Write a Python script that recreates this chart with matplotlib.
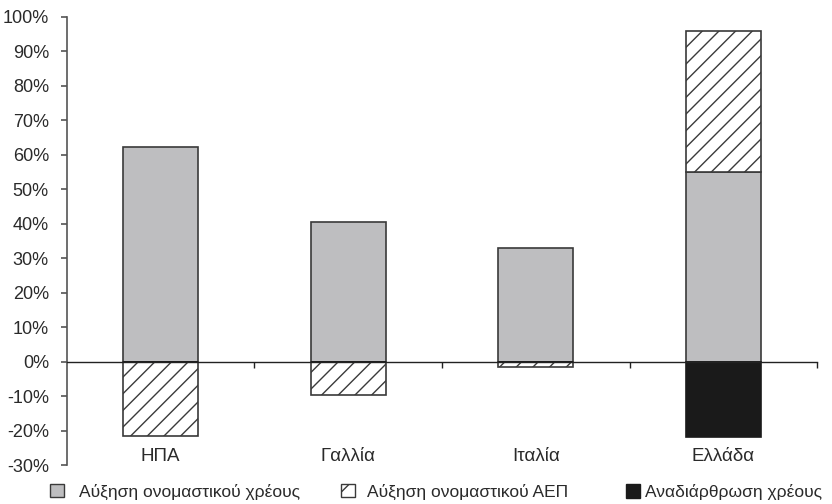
import matplotlib
matplotlib.use("Agg")
import matplotlib.pyplot as plt
from matplotlib.patches import Patch
from matplotlib.ticker import FuncFormatter
import numpy as np

plt.rcParams['font.family'] = ['Liberation Sans Narrow', 'Liberation Sans', 'DejaVu Sans']
plt.rcParams['hatch.linewidth'] = 1.0
plt.rcParams['hatch.color'] = '#333333'

countries = ["ΗΠΑ", "Γαλλία", "Ιταλία", "Ελλάδα"]
debt_growth = [62.3, 40.6, 33.0, 55.1]        # Αύξηση ονομαστικού χρέους
gdp_growth = [-21.4, -9.6, -1.5, 40.8]        # Αύξηση ονομαστικού ΑΕΠ
restructuring = [0.0, 0.0, 0.0, -21.7]        # Αναδιάρθρωση χρέους
legend_labels = ["Αύξηση ονομαστικού χρέους", "Αύξηση ονομαστικού ΑΕΠ",
                 "Αναδιάρθρωση χρέους"]
y_ticks = list(range(-30, 101, 10))

FS = 13
TXT = '#2a2a2a'

fig = plt.figure(figsize=(8.32, 5.04), dpi=100)
ax = fig.add_axes([0.0805, 0.0764, 0.9015, 0.8899])

x = np.arange(len(countries))
w = 0.4
edge = '#3a3a3a'
gray = '#bebec0'
black = '#1a1a1a'

ax.bar(x, debt_growth, w, color=gray, edgecolor=edge, linewidth=1.2, zorder=2)
# GDP growth stacks on top of debt growth when positive, below zero otherwise
gdp_bottom = [d if g > 0 else 0 for d, g in zip(debt_growth, gdp_growth)]
ax.bar(x, gdp_growth, w, bottom=gdp_bottom, color='white', edgecolor=edge,
       hatch='//', linewidth=1.2, zorder=2)
ax.bar(x, restructuring, w, color=black, edgecolor=black,
       linewidth=1.2, zorder=2)

ax.set_xlim(-0.5, len(countries) - 0.5)
ax.set_ylim(-30, 100)
ax.set_yticks(y_ticks)
ax.yaxis.set_major_formatter(FuncFormatter(lambda v, p: f"{v:.0f}%"))

for s in ['top', 'right']:
    ax.spines[s].set_visible(False)
ax.spines['left'].set_color('#555555')
ax.spines['left'].set_linewidth(1.2)
ax.spines['bottom'].set_position(('data', 0))
ax.spines['bottom'].set_color('#222222')
ax.spines['bottom'].set_linewidth(1.0)
ax.spines['bottom'].set_zorder(3)

ax.tick_params(axis='y', direction='out', length=4, width=1.2, color='#555555',
               labelsize=FS, labelcolor=TXT, pad=9)
ax.set_xticks(np.arange(len(countries)) + 0.5)
ax.tick_params(axis='x', direction='out', length=4, width=1.0, color='#222222',
               labelbottom=False)

for xi, name in zip(x, countries):
    ax.text(xi, 0.021, name, transform=ax.get_xaxis_transform(),
            ha='center', va='center', fontsize=FS + 0.5, color=TXT)

handles = [
    Patch(facecolor=gray, edgecolor=edge, linewidth=1.0),
    Patch(facecolor='white', edgecolor=edge, hatch='/', linewidth=1.0),
    Patch(facecolor=black, edgecolor=black, linewidth=1.0),
]
legend_x = [50, 341, 626]
legend_pad = [0.85, 0.7, 0.3]
for h, lab, lx, pad in zip(handles, legend_labels, legend_x, legend_pad):
    fig.legend([h], [lab], loc='center left',
               bbox_to_anchor=(lx / 832, 0.024), frameon=False, fontsize=12.5,
               handlelength=0.8, handleheight=0.8, handletextpad=pad,
               borderpad=0, borderaxespad=0, labelcolor=TXT)

fig.savefig("out.png", dpi=100)
